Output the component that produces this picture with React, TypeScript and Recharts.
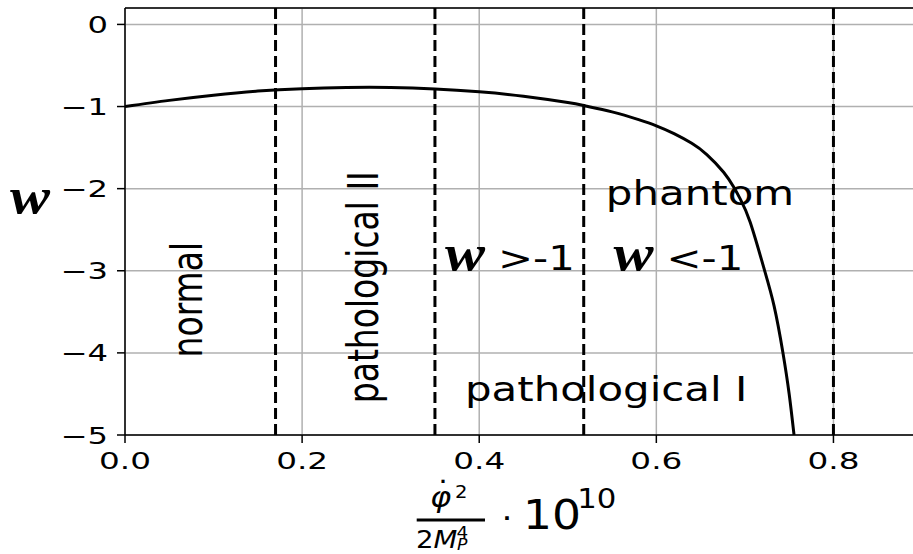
import { CartesianGrid, Line, LineChart, ReferenceDot, ReferenceLine, XAxis, YAxis } from 'recharts'

// equation of state w vs kinetic term
const X_VALUES = [0, 0.05, 0.1, 0.15, 0.2, 0.25, 0.3, 0.35, 0.4, 0.45, 0.5, 0.52, 0.55, 0.58, 0.6, 0.62, 0.64, 0.657, 0.676, 0.687, 0.695, 0.706, 0.721, 0.733, 0.743, 0.75, 0.7555]
const W_VALUES = [-1, -0.925, -0.862, -0.812, -0.782, -0.768, -0.768, -0.786, -0.821, -0.875, -0.952, -0.993, -1.065, -1.16, -1.235, -1.33, -1.448, -1.585, -1.8, -1.975, -2.13, -2.41, -2.95, -3.43, -4.0, -4.5, -5.0]

const X_TICKS = [0, 0.2, 0.4, 0.6, 0.8]
const Y_TICKS = [0, -1, -2, -3, -4, -5]
const X_MAX = 0.9
const Y_MIN = -5
const Y_MAX = 0.2

// regime boundaries (dashed)
const BOUNDARIES = [0.17, 0.35, 0.518, 0.8]

type RegionLabel = { key: string; x: number; y: number; text: string; vertical?: boolean; math?: boolean }

const REGION_LABELS: RegionLabel[] = [
  { key: 'normal', x: 0.0866, y: -3.352, text: 'normal', vertical: true },
  { key: 'path2', x: 0.2859, y: -3.2, text: 'pathological II', vertical: true },
  { key: 'phantom', x: 0.543, y: -2.197, text: 'phantom' },
  { key: 'gt', x: 0.3613, y: -2.987, text: '>-1', math: true },
  { key: 'lt', x: 0.5516, y: -2.987, text: '<-1', math: true },
  { key: 'path1', x: 0.3839, y: -4.59, text: 'pathological I' },
]

const data = X_VALUES.map((x, i) => ({ x, w: W_VALUES[i] }))

const SANS = "'DejaVu Sans', sans-serif"
const SERIF = "'Liberation Serif', serif"

function MathW({ x, y }: { x: number; y: number }) {
  return (
    <text
      transform={`translate(${x},${y}) scale(1.2,1)`}
      fontFamily={SERIF}
      fontStyle="italic"
      fontWeight="bold"
      fontSize={50}
      fill="#000"
    >
      w
    </text>
  )
}

function RegionText({ cx, cy, label }: { cx: number; cy: number; label: RegionLabel }) {
  if (label.vertical) {
    return (
      <text
        transform={`translate(${cx},${cy}) scale(1.27,1) rotate(-90)`}
        textAnchor="middle"
        fontFamily={SANS}
        fontSize={33}
        fill="#000"
      >
        {label.text}
      </text>
    )
  }
  if (label.math) {
    return (
      <g>
        <MathW x={cx} y={cy} />
        <text transform={`translate(${cx + 53},${cy}) scale(1.27,1)`} fontFamily={SANS} fontSize={33} fill="#000">
          {label.text}
        </text>
      </g>
    )
  }
  return (
    <text transform={`translate(${cx},${cy}) scale(1.27,1)`} fontFamily={SANS} fontSize={33} fill="#000">
      {label.text}
    </text>
  )
}

function XTick(props: any) {
  const { x, y, payload } = props
  return (
    <g transform={`translate(${x},${y + 24}) scale(1.42,1)`}>
      <text textAnchor="middle" fontFamily={SANS} fontSize={23} fill="#000">
        {Number(payload.value).toFixed(1)}
      </text>
    </g>
  )
}

function YTick(props: any) {
  const { x, y, payload } = props
  const v = Number(payload.value)
  const s = v < 0 ? `\u2212${Math.abs(v)}` : String(v)
  return (
    <g transform={`translate(${x - 7},${y + 8.5}) scale(1.4,1)`}>
      <text textAnchor="end" fontFamily={SANS} fontSize={23} fill="#000">
        {s}
      </text>
    </g>
  )
}

function YLabel(props: any) {
  const vb = props.viewBox
  return <MathW x={vb.x + 10} y={vb.y + 205} />
}

function XLabel(props: any) {
  const vb = props.viewBox
  // offsets relative to left of plot / axis line
  const ox = vb.x - 125
  const oy = vb.y - 435
  const t = (x: number, y: number, sx = 1.15) => `translate(${x + ox},${y + oy}) scale(${sx},1)`
  return (
    <g fill="#000" fontFamily={SANS}>
      {/* dot-phi squared */}
      <text transform={t(430, 507)} fontSize={28}>
        <tspan fontStyle="italic">φ</tspan>
        <tspan x={7.2} y={-24} fontSize={26}>.</tspan>
        <tspan x={21.7} y={-9} fontSize={17}>2</tspan>
      </text>
      <line x1={416.7 + ox} x2={485 + ox} y1={520 + oy} y2={520 + oy} stroke="#000" strokeWidth={3} />
      {/* 2 M_P^4 */}
      <text transform={t(416, 547.7)} fontSize={24}>
        2<tspan fontStyle="italic">M</tspan>
        <tspan x={35.2} y={-9.7} fontSize={16}>4</tspan>
        <tspan x={35.7} y={2.3} fontSize={15} fontStyle="italic">P</tspan>
      </text>
      <text transform={t(507, 529)} fontSize={30} textAnchor="middle">·</text>
      <text transform={t(523, 529, 1.14)} fontSize={40}>
        10
        <tspan x={47.5} y={-21} fontSize={27}>10</tspan>
      </text>
    </g>
  )
}

export default function App() {
  return (
    <div style={{ position: 'absolute', left: 0, top: 0, width: 913, height: 554, overflow: 'hidden', background: '#fff' }}>
      <LineChart width={930} height={554} data={data} margin={{ top: 8, right: 8, left: 0, bottom: 0 }}>
        <CartesianGrid stroke="#b0b0b0" strokeWidth={1.5} />
        <XAxis
          type="number"
          dataKey="x"
          domain={[0, X_MAX]}
          ticks={X_TICKS}
          allowDataOverflow
          height={119}
          tickSize={8}
          tick={<XTick />}
          axisLine={{ stroke: '#000', strokeWidth: 1.5 }}
          tickLine={{ stroke: '#000', strokeWidth: 1.5 }}
          label={XLabel}
        />
        <YAxis
          type="number"
          domain={[Y_MIN, Y_MAX]}
          ticks={Y_TICKS}
          allowDataOverflow
          width={125}
          tickSize={8}
          tick={<YTick />}
          axisLine={{ stroke: '#000', strokeWidth: 1.5 }}
          tickLine={{ stroke: '#000', strokeWidth: 1.5 }}
          label={YLabel}
        />
        <ReferenceLine y={Y_MAX} stroke="#000" strokeWidth={1.5} />
        {BOUNDARIES.map((b) => (
          <ReferenceLine key={b} x={b} stroke="#000" strokeWidth={3} strokeDasharray="11 5" />
        ))}
        <Line
          type="natural"
          dataKey="w"
          stroke="#000"
          strokeWidth={3}
          dot={false}
          activeDot={false}
          isAnimationActive={false}
        />
        {REGION_LABELS.map((lab) => (
          <ReferenceDot
            key={lab.key}
            x={lab.x}
            y={lab.y}
            r={0}
            ifOverflow="visible"
            shape={(p: any) => <RegionText cx={p.cx} cy={p.cy} label={lab} />}
          />
        ))}
      </LineChart>
    </div>
  )
}
